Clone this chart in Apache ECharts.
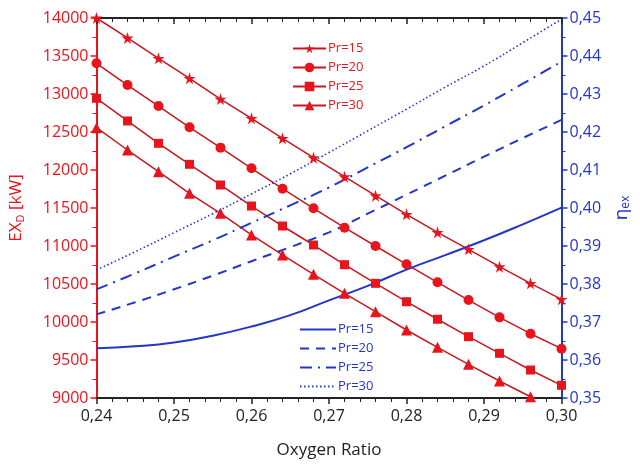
<!DOCTYPE html>
<html><head><meta charset="utf-8">
<script src="https://cdn.jsdelivr.net/npm/echarts@6/dist/echarts.min.js"></script>
<style>html,body{margin:0;padding:0;background:#fff}#c{width:640px;height:468px}</style>
</head><body><div id="c"></div>
<script>
var xRed = [0.240,0.244,0.248,0.252,0.256,0.260,0.264,0.268,0.272,0.276,0.280,0.284,0.288,0.292,0.296,0.300];
var exPr15 = [14000,13737,13470,13207,12934,12680,12417,12162,11912,11662,11417,11180,10956,10728,10509,10298];
var exPr20 = [13404,13118,12842,12562,12294,12022,11754,11496,11241,11000,10759,10522,10289,10061,9846,9649];
var exPr25 = [12943,12645,12351,12075,11803,11526,11263,11013,10754,10509,10267,10036,9807,9588,9368,9167];
var exPr30 = [12557,12263,11978,11693,11430,11145,10882,10628,10378,10136,9895,9667,9443,9224,9017,8820];
var xBlue = [0.240,0.245,0.250,0.255,0.260,0.265,0.270,0.275,0.280,0.285,0.290,0.295,0.300];
var etaPr15 = [0.3631,0.3636,0.3646,0.3664,0.3688,0.3718,0.3757,0.3795,0.3838,0.3876,0.3915,0.3957,0.4001];
var etaPr20 = [0.3720,0.3752,0.3786,0.3822,0.3860,0.3897,0.3936,0.3985,0.4035,0.4085,0.4135,0.4184,0.4232];
var etaPr25 = [0.3786,0.3828,0.3872,0.3915,0.3961,0.4007,0.4054,0.4107,0.4160,0.4215,0.4270,0.4327,0.4385];
var etaPr30 = [0.3837,0.3885,0.3935,0.3985,0.4037,0.4090,0.4146,0.4203,0.4260,0.4318,0.4374,0.4435,0.4497];
var seriesNames = ['Pr=15','Pr=20','Pr=25','Pr=30'];

var RED_LINE = '#c8161f', RED = '#e8141c', BLUE = '#2236c9', DARK = '#222';
var FONT = 'Open Sans';
var star = 'path://M50,0 L61,35 L98,35 L68,57 L79,91 L50,70 L21,91 L32,57 L2,35 L39,35 Z';
function pairs(xs, ys){ return xs.map(function(x,i){ return [x, ys[i]]; }); }
function comma(v, d){ return v.toFixed(d).replace('.', ','); }

var redData = [exPr15, exPr20, exPr25, exPr30];
var redSymbols = [star, 'circle', 'rect', 'triangle'];
var redSizes = [12, 10, 9, 11];
var blueData = [etaPr15, etaPr20, etaPr25, etaPr30];
var blueTypes = ['solid', [9, 7], [12, 6, 2, 6], [1.5, 2.5]];

var series = [];
redData.forEach(function(d, i){
  series.push({
    name: seriesNames[i], type: 'line', xAxisIndex: 0, yAxisIndex: 0,
    data: pairs(xRed, d), symbol: redSymbols[i], symbolSize: redSizes[i],
    showAllSymbol: true, clip: true, animation: false,
    lineStyle: {color: RED_LINE, width: 1.5},
    itemStyle: {color: RED}
  });
});
blueData.forEach(function(d, i){
  series.push({
    name: seriesNames[i] + ' ', type: 'line', xAxisIndex: 0, yAxisIndex: 1,
    data: pairs(xBlue, d), symbol: 'none', showSymbol: false, smooth: true, animation: false,
    lineStyle: {color: BLUE, width: i === 3 ? 1.6 : 2, type: blueTypes[i]},
    itemStyle: {color: BLUE}
  });
});

var chart = echarts.init(document.getElementById('c'), null, {renderer: 'canvas'});
chart.setOption({
  backgroundColor: '#fff',
  animation: false,
  grid: {left: 94, right: 74, top: 18, bottom: 70},
  legend: [
    {data: seriesNames, orient: 'vertical', left: 287, top: 37, itemWidth: 33, itemHeight: 12, itemGap: 6,
     textStyle: {color: RED, fontFamily: FONT, fontSize: 13, padding: [0,0,0,-3]}},
    {data: seriesNames.map(function(s){return s + ' ';}), orient: 'vertical', left: 294, top: 318, itemWidth: 36, itemHeight: 12, itemGap: 6,
     itemStyle: {opacity: 0},
     textStyle: {color: BLUE, fontFamily: FONT, fontSize: 13, padding: [0,0,0,-3]},
     formatter: function(n){ return n.trim(); }}
  ],
  xAxis: [
    {type: 'value', position: 'bottom', min: 0.24, max: 0.30, interval: 0.01,
     name: 'Oxygen Ratio', nameLocation: 'middle', nameGap: 44,
     nameTextStyle: {color: DARK, fontFamily: FONT, fontSize: 17},
     axisLine: {show: true, lineStyle: {color: DARK, width: 2}},
     axisTick: {show: true, length: 6, lineStyle: {color: DARK, width: 1.5}},
     minorTick: {show: true, splitNumber: 5, length: 4, lineStyle: {color: DARK, width: 1}},
     axisLabel: {color: DARK, fontFamily: FONT, fontSize: 16, margin: 10, formatter: function(v){ return comma(v, 2); }},
     splitLine: {show: false}},
    {type: 'value', position: 'top', min: 0.24, max: 0.30, interval: 0.01,
     axisLine: {show: true, lineStyle: {color: DARK, width: 2}},
     axisTick: {show: true, inside: true, length: 6, lineStyle: {color: DARK, width: 1.5}},
     minorTick: {show: true, splitNumber: 5, length: 4, lineStyle: {color: DARK, width: 1}},
     axisLabel: {show: false}, splitLine: {show: false}}
  ],
  yAxis: [
    {type: 'value', position: 'left', min: 9000, max: 14000, interval: 500,
     name: '{a|EX}{s|D}{a| [kW]}', nameLocation: 'middle', nameGap: 70, nameRotate: 90,
     nameTextStyle: {color: RED, fontFamily: FONT, fontSize: 17,
       rich: {a: {color: RED, fontFamily: FONT, fontSize: 17}, s: {color: RED, fontFamily: FONT, fontSize: 11, padding: [9,0,0,0]}}},
     axisLine: {show: true, lineStyle: {color: RED, width: 2}},
     axisTick: {show: true, length: 6, lineStyle: {color: RED, width: 1.5}},
     minorTick: {show: true, splitNumber: 2, length: 4, lineStyle: {color: RED, width: 1}},
     axisLabel: {color: RED, fontFamily: FONT, fontSize: 16, margin: 8, formatter: function(v){ return String(Math.round(v)); }},
     splitLine: {show: false}},
    {type: 'value', position: 'right', min: 0.35, max: 0.45, interval: 0.01,
     name: '{a|η}{s|ex}', nameLocation: 'middle', nameGap: 44, nameRotate: 90,
     nameTextStyle: {color: BLUE, fontFamily: FONT, fontSize: 19,
       rich: {a: {color: BLUE, fontFamily: FONT, fontSize: 19}, s: {color: BLUE, fontFamily: FONT, fontSize: 12, padding: [9,0,0,0]}}},
     axisLine: {show: true, lineStyle: {color: BLUE, width: 2}},
     axisTick: {show: true, length: 6, lineStyle: {color: BLUE, width: 1.5}},
     minorTick: {show: true, splitNumber: 2, length: 4, lineStyle: {color: BLUE, width: 1}},
     axisLabel: {color: BLUE, fontFamily: FONT, fontSize: 16, margin: 8, formatter: function(v){ return comma(v, 2); }},
     splitLine: {show: false}},
  ],
  series: series
});
</script></body></html>
